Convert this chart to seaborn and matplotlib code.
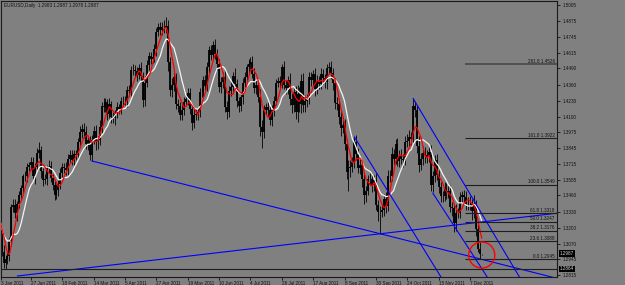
import numpy as np
import pandas as pd
import seaborn as sns
import matplotlib.pyplot as plt
from matplotlib.patches import Ellipse
from matplotlib import transforms

# EURUSD daily closes 2011
jan = [1.3360, 1.3305, 1.3145, 1.3000, 1.2910, 1.2945, 1.2970, 1.3090, 1.3365, 1.3385, 1.3315,
       1.3395, 1.3465, 1.3520, 1.3615, 1.3615, 1.3690, 1.3710, 1.3735, 1.3615, 1.3695]
feb = [1.3805, 1.3830, 1.3655, 1.3585, 1.3595, 1.3680, 1.3700, 1.3600, 1.3545, 1.3465,
       1.3505, 1.3555, 1.3640, 1.3690, 1.3685, 1.3665, 1.3760, 1.3790, 1.3750, 1.3800]
mar = [1.3790, 1.3890, 1.3975, 1.4000, 1.3975, 1.3875, 1.3910, 1.3790, 1.3910, 1.3985, 1.3900, 1.3910,
       1.4015, 1.4185, 1.4175, 1.4215, 1.4125, 1.4200, 1.4095, 1.4085, 1.4120, 1.4175, 1.4165]
apr = [1.4230, 1.4230, 1.4225, 1.4315, 1.4305, 1.4480, 1.4475, 1.4470, 1.4440, 1.4490, 1.4430,
       1.4235, 1.4375, 1.4520, 1.4590, 1.4570, 1.4580, 1.4645, 1.4790, 1.4825, 1.4805]
may = [1.4825, 1.4830, 1.4835, 1.4540, 1.4315, 1.4355, 1.4420, 1.4200, 1.4185, 1.4115, 1.4150,
       1.4220, 1.4240, 1.4295, 1.4160, 1.4050, 1.4110, 1.4120, 1.4135, 1.4300, 1.4300, 1.4395]
jun = [1.4350, 1.4500, 1.4640, 1.4600, 1.4680, 1.4605, 1.4525, 1.4340, 1.4380, 1.4425, 1.4180,
       1.4140, 1.4310, 1.4340, 1.4430, 1.4365, 1.4225, 1.4185, 1.4255, 1.4375, 1.4425, 1.4500]
jul = [1.4525, 1.4545, 1.4445, 1.4330, 1.4360, 1.4260, 1.4015, 1.3975, 1.4150, 1.4175, 1.4150,
       1.4075, 1.4150, 1.4230, 1.4375, 1.4385, 1.4370, 1.4500, 1.4360, 1.4330, 1.4395]
aug = [1.4245, 1.4190, 1.4300, 1.4140, 1.4285, 1.4200, 1.4385, 1.4195, 1.4225, 1.4240, 1.4420, 1.4395,
       1.4445, 1.4325, 1.4390, 1.4365, 1.4445, 1.4410, 1.4380, 1.4490, 1.4500, 1.4450, 1.4375]
sep = [1.4210, 1.4200, 1.4095, 1.4005, 1.4035, 1.3880, 1.3650, 1.3680, 1.3695, 1.3730, 1.3890,
       1.3795, 1.3685, 1.3710, 1.3590, 1.3460, 1.3500, 1.3590, 1.3595, 1.3545, 1.3585, 1.3385]
oct_ = [1.3325, 1.3330, 1.3345, 1.3430, 1.3375, 1.3620, 1.3620, 1.3795, 1.3760, 1.3880, 1.3740,
        1.3780, 1.3760, 1.3745, 1.3895, 1.3905, 1.3935, 1.3915, 1.4185, 1.4150, 1.3865]
nov = [1.3710, 1.3755, 1.3805, 1.3785, 1.3770, 1.3810, 1.3545, 1.3615, 1.3750, 1.3625, 1.3530,
       1.3455, 1.3455, 1.3520, 1.3485, 1.3495, 1.3370, 1.3355, 1.3235, 1.3320, 1.3320, 1.3445]
dec = [1.3460, 1.3445, 1.3395, 1.3395, 1.3390, 1.3335, 1.3380, 1.3185, 1.3030, 1.2983, 1.2987]
first_open = 1.3380

# upper / lower shadows in pips
wick_up = [80, 40, 30, 45, 60, 35, 40, 30, 30, 45, 50, 20, 35, 25, 20, 45, 30, 20, 35, 40, 30,
           40, 60, 35, 30, 40, 30, 45, 40, 35, 30, 45, 30, 40, 35, 30, 45, 40, 40, 35, 30,
           30, 35, 50, 40, 45, 50, 35, 35, 40, 40, 45, 30, 55, 30, 65, 35, 25, 50, 30, 40, 35, 45, 30,
           30, 35, 40, 35, 40, 30, 45, 40, 35, 40, 50, 35, 55, 40, 30, 35, 30, 40, 25, 35, 45,
           45, 50, 70, 45, 40, 60, 40, 30, 45, 35, 50, 40, 45, 40, 35, 40, 50, 45, 40, 35, 40, 35,
           45, 40, 30, 40, 35, 50, 40, 45, 40, 35, 50, 45, 40, 45, 35, 60, 40, 35, 45, 40, 35, 30,
           40, 35, 50, 45, 40, 50, 60, 60, 40, 35, 40, 45, 40, 35, 30, 40, 45, 30, 50, 40, 35,
           60, 45, 40, 50, 70, 55, 60, 65, 50, 40, 45, 40, 35, 50, 45, 40, 45, 40, 35, 40, 45, 50, 40,
           40, 45, 40, 50, 60, 45, 40, 65, 55, 40, 45, 60, 50, 45, 40, 45, 35, 40, 45, 50, 45, 60,
           40, 45, 50, 40, 55, 45, 50, 60, 45, 40, 50, 45, 55, 40, 45, 50, 55, 40, 62, 45, 40,
           80, 50, 60, 45, 40, 50, 60, 45, 40, 50, 45, 40, 45, 50, 40, 45, 50, 35, 40, 70, 40, 45,
           40, 45, 50, 55, 60, 45, 80, 40, 40, 50, 0]
wick_dn = [60, 45, 40, 30, 35, 50, 40, 45, 40, 40, 35, 60, 40, 40, 45, 40, 45, 30, 45, 25, 60,
           30, 40, 55, 45, 30, 50, 40, 30, 40, 40, 35, 50, 40, 35, 45, 35, 40, 30, 40, 45,
           40, 30, 35, 45, 50, 40, 50, 40, 50, 35, 70, 60, 40, 45, 35, 40, 50, 35, 45, 40, 50, 30, 45,
           40, 45, 35, 50, 40, 35, 40, 45, 50, 35, 40, 60, 50, 35, 40, 45, 35, 40, 50, 35, 40,
           40, 45, 50, 70, 45, 60, 45, 40, 50, 40, 45, 40, 35, 50, 40, 60, 45, 40, 50, 40, 45, 40,
           40, 45, 50, 45, 40, 35, 50, 40, 50, 45, 40, 60, 45, 40, 45, 40, 50, 45, 40, 50, 45, 40,
           45, 40, 35, 40, 50, 45, 70, 130, 45, 40, 45, 40, 50, 45, 40, 35, 45, 40, 35, 45, 50,
           50, 60, 55, 60, 80, 65, 70, 60, 55, 45, 40, 50, 45, 60, 40, 45, 40, 45, 50, 55, 40, 45, 60,
           45, 50, 55, 60, 40, 50, 60, 150, 70, 45, 50, 45, 40, 50, 60, 70, 55, 40, 45, 60, 50, 40,
           70, 180, 45, 50, 60, 40, 50, 45, 55, 45, 40, 50, 45, 50, 40, 45, 50, 45, 40, 55, 60,
           60, 45, 50, 60, 45, 40, 50, 55, 45, 40, 50, 45, 50, 40, 50, 45, 40, 60, 70, 60, 45, 40,
           45, 40, 55, 50, 45, 70, 60, 50, 30, 38, 5]

tick_dates = ['2011-01-03', '2011-01-27', '2011-02-18', '2011-03-14', '2011-04-05', '2011-04-27',
              '2011-05-19', '2011-06-10', '2011-07-04', '2011-07-26', '2011-08-17', '2011-09-08',
              '2011-09-30', '2011-10-24', '2011-11-15', '2011-12-07']
price_ticks = [1.5005, 1.4875, 1.4745, 1.4615, 1.4490, 1.4360, 1.4230, 1.4100, 1.3975,
               1.3845, 1.3715, 1.3585, 1.3460, 1.3330, 1.3200, 1.3070, 1.2945, 1.2815]

fib_levels = [0.0, 23.6, 38.2, 50.0, 61.8, 100.0, 161.8, 261.8]
fib_low, fib_high = 1.2945, 1.3549
fib_from = '2011-12-02'
hline_price = 1.2864
bid_price = 1.2987
header = 'EURUSD,Daily  1.2983 1.2987 1.2978 1.2987'

# trend lines: start date, start price, price change per bar
trend_lines = [('2011-03-11', 1.3740, -0.000401),
               ('2011-01-18', 1.2807, 0.000185),
               ('2011-09-15', 1.3935, -0.00257),
               ('2011-10-27', 1.4247, -0.00267),
               ('2011-11-10', 1.3480, -0.00245)]

closes = jan + feb + mar + apr + may + jun + jul + aug + sep + oct_ + nov + dec
dates = pd.bdate_range('2011-01-03', periods=len(closes))
df = pd.DataFrame({'date': dates, 'close': closes})
df['idx'] = np.arange(len(df))
df['open'] = df['close'].shift(1).fillna(first_open)
top = df[['open', 'close']].max(axis=1)
bot = df[['open', 'close']].min(axis=1)
df['high'] = top + np.array(wick_up) / 10000
df['low'] = bot - np.array(wick_dn) / 10000
df['ma_fast'] = df['close'].rolling(5, min_periods=1).mean()
df['ma_slow'] = df['close'].rolling(10, min_periods=1).mean()

bg = '#808080'
ink = '#111111'
sns.set_style('ticks', {'axes.facecolor': bg, 'figure.facecolor': bg})
plt.rcParams['font.family'] = ['Liberation Sans', 'DejaVu Sans']

fig = plt.figure(figsize=(6.25, 2.85), dpi=100)
ax = fig.add_axes([1 / 625, 8 / 285, 556 / 625, 276 / 285])
x0, x1 = 2.69, 286.4
ax.set_xlim(x0, x1)
ax.set_ylim(1.2799, 1.50374)

ax.vlines(df['idx'], df['low'], df['high'], color='black', lw=0.6, zorder=2)
ax.vlines(df['idx'], bot, top, color='black', lw=1.3, zorder=2)
sns.lineplot(data=df, x='idx', y='ma_slow', color='#f4f4f4', lw=0.9, ax=ax, zorder=3)
sns.lineplot(data=df, x='idx', y='ma_fast', color='#ff0000', lw=0.9, ax=ax, zorder=4)

# trend lines
for d, p, slope in trend_lines:
    i0 = dates.get_loc(pd.Timestamp(d))
    ax.plot([i0, x1], [p, p + slope * (x1 - i0)], color='#0000ff', lw=0.8, zorder=5)

# fibonacci levels
fi = dates.get_loc(pd.Timestamp(fib_from)) + 0.4
for lv in fib_levels:
    price = fib_low + lv / 100 * (fib_high - fib_low)
    if lv == 261.8:
        ax.hlines(price, fi, x1, color='#4c4c4c', lw=1.3, zorder=5)
    else:
        ax.hlines(price, fi, x1, color='#1e1e1e', lw=0.8, zorder=5)
    ax.text(x1 - 1.2, price + 0.0003, f'{lv:.1f} {price:.4f}', ha='right', va='bottom',
            fontsize=3.3, color=ink, zorder=6)

ax.axhline(hline_price, color='#1e1e1e', lw=0.8, zorder=5)

last = df.iloc[-1]
ax.add_patch(Ellipse((last['idx'], last['close'] - 0.001), width=13.3, height=0.0211,
                     fill=False, edgecolor='#ff0000', lw=1.0, zorder=7))

ax.text(3 / 556, 1 - 2 / 276, header, transform=ax.transAxes, ha='left', va='top',
        fontsize=3.3, color=ink)

# axes
ax.set_xlabel('')
ax.set_ylabel('')
tpos = [max(dates.get_loc(pd.Timestamp(t)), x0) for t in tick_dates]
ax.set_xticks(tpos)
ax.set_xticklabels([f'{pd.Timestamp(t).day} {pd.Timestamp(t):%b %Y}' for t in tick_dates])
for lbl in ax.get_xticklabels():
    lbl.set_ha('left')
ax.yaxis.tick_right()
ax.set_yticks(price_ticks)
ax.set_yticklabels([f'{v:.4f}' for v in price_ticks])
ax.tick_params(axis='y', length=2.5, width=0.6, pad=1.5, labelsize=3.3, colors=ink)
ax.tick_params(axis='x', length=2.5, width=0.6, pad=0.6, labelsize=3.3, colors=ink)
for s in ax.spines.values():
    s.set_visible(True)
    s.set_color('#1a1a1a')
    s.set_linewidth(0.8)

trans = transforms.blended_transform_factory(ax.transAxes, ax.transData)
for val in [bid_price, hline_price]:
    ax.text(1 + 3 / 556, val, f'{val:.4f}', transform=trans, ha='left', va='center',
            fontsize=3.3, color='#d8d8d8', zorder=8,
            bbox=dict(facecolor='black', edgecolor='none', pad=0.7))

fig.savefig('out.png', dpi=100, facecolor=bg)
